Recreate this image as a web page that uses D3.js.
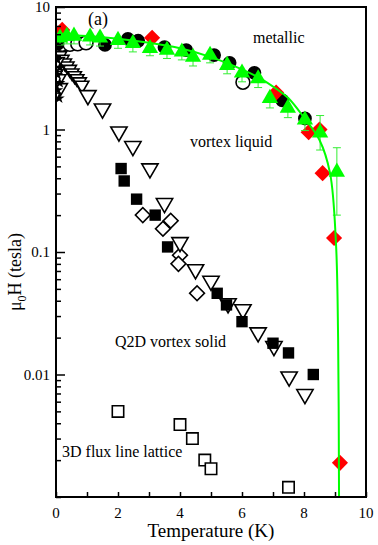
<!DOCTYPE html>
<html>
<head>
<meta charset="utf-8">
<script src="https://cdn.jsdelivr.net/npm/d3@7"></script>
<style>
  body { margin: 0; background: #fff; }
  svg text { font-family: "Liberation Serif", "DejaVu Serif", serif; fill: #000; }
</style>
</head>
<body>
<svg id="chart" width="378" height="545"></svg>
<script>
// tick labels
const xTicks = [0, 2, 4, 6, 8, 10];
const yTicks = [10, 1, 0.1, 0.01];
const yTickLabels = ["10", "1", "0.1", "0.01"];

// green fit line
const fitT = [0, 1, 2, 3, 4, 5, 6, 6.6, 7.1, 7.5, 8.0, 8.5, 8.84, 9.03, 9.1, 9.13];
const fitH = [6.0, 5.8, 5.5, 5.1, 4.6, 3.9, 3.1, 2.6, 2.15, 1.8, 1.25, 0.82, 0.44, 0.12, 0.02, 0.001];

// green triangles with error bars
const triT = [0.13, 0.35, 0.58, 1.1, 1.42, 2.0, 2.48, 3.03, 3.58, 4.06, 4.42, 4.97, 5.52, 6.0, 6.52, 6.9, 7.48, 8.03, 8.52, 9.06];
const triH = [5.6, 5.8, 5.8, 5.7, 5.6, 5.35, 5.05, 4.6, 4.45, 4.3, 3.9, 4.05, 3.35, 2.9, 2.6, 1.8, 1.5, 1.2, 0.94, 0.45];
const triLo = [4.9, 5.0, 5.0, 4.9, 4.8, 4.6, 4.3, 4.0, 3.8, 3.7, 3.3, 3.5, 2.85, 2.45, 2.2, 1.5, 1.25, 0.98, 0.68, 0.2];
const triHi = [5.6, 5.8, 5.8, 5.7, 5.6, 5.35, 5.05, 4.6, 4.45, 4.3, 3.9, 4.05, 3.35, 2.9, 2.6, 1.8, 1.5, 1.2, 1.3, 0.71];

// red diamonds
const redT = [0.2, 3.1, 7.1, 8.15, 8.5, 8.6, 8.97, 9.16];
const redH = [6.5, 5.6, 2.0, 0.95, 1.0, 0.44, 0.13, 0.0019];

// black filled circles
const dotT = [0.05, 1.58, 2.32, 2.65, 3.5, 4.2, 5.1, 5.6, 6.4, 7.3, 8.03];
const dotH = [5.0, 4.9, 5.5, 5.3, 4.7, 4.45, 4.05, 3.5, 2.9, 1.73, 1.23];

// open circles
const ringT = [0.2, 0.45, 0.7, 0.97, 6.03];
const ringH = [4.95, 4.95, 5.0, 5.1, 2.43];

// open down triangles, dense low-T run
const lowT = [0.05, 0.12, 0.2, 0.28, 0.36, 0.44, 0.52, 0.6, 0.68, 0.76, 0.84, 0.05, 0.05, 0.1, 0.15];
const lowH = [4.3, 4.0, 3.75, 3.5, 3.3, 3.1, 2.9, 2.75, 2.6, 2.45, 2.3, 3.6, 3.0, 2.6, 2.2];

// open down triangles
const downT = [1.03, 1.5, 2.03, 2.48, 3.03, 3.5, 4.0, 4.5, 5.0, 5.55, 6.03, 6.52, 7.03, 7.52, 8.03];
const downH = [1.9, 1.48, 0.96, 0.73, 0.48, 0.25, 0.12, 0.072, 0.058, 0.038, 0.034, 0.022, 0.017, 0.0096, 0.0069];

// black filled squares
const sqT = [2.1, 2.2, 2.6, 3.2, 3.6, 5.2, 5.5, 6.0, 7.0, 7.5, 8.3];
const sqH = [0.48, 0.38, 0.27, 0.2, 0.11, 0.046, 0.037, 0.027, 0.018, 0.015, 0.010];

// open diamonds
const dmT = [2.8, 3.45, 3.7, 4.0, 3.95, 4.55];
const dmH = [0.2, 0.155, 0.18, 0.094, 0.08, 0.046];

// open squares (3D lattice)
const boxT = [2.0, 4.0, 4.4, 4.8, 5.0, 7.5];
const boxH = [0.005, 0.0039, 0.003, 0.002, 0.0017, 0.0012];

// black stars at the axis
const starT = [0.05, 0.12, 0.05, 0.12, 0.05, 0.1];
const starH = [3.7, 3.2, 2.8, 2.4, 2.1, 1.8];

const svg = d3.select("#chart");
const padL = 56, padR = 366, padT = 7, padB = 497;

const x = d3.scaleLinear().domain([0, 10]).range([padL, padR]);
const y = d3.scaleLog().domain([0.001, 10]).range([padB, padT]);

const plot = svg.append("g");
plot.append("clipPath").attr("id", "clip")
  .append("rect").attr("x", padL).attr("y", padT)
  .attr("width", padR - padL).attr("height", padB - padT);
const marks = plot.append("g").attr("clip-path", "url(#clip)");

const zip = (a, b) => a.map((v, i) => [v, b[i]]);

function drawSymbol(data, type, size, fill, stroke, rotate) {
  marks.append("g").selectAll("path")
    .data(data)
    .enter()
    .append("path")
    .attr("d", d3.symbol().type(type).size(size))
    .attr("transform", d => `translate(${x(d[0])},${y(d[1])}) rotate(${rotate || 0})`)
    .attr("fill", fill)
    .attr("stroke", stroke)
    .attr("stroke-width", stroke == "none" ? 0 : 1.6);
}

// low field phases
drawSymbol(zip(boxT, boxH), d3.symbolSquare, 130, "#fff", "#000");
drawSymbol(zip(dmT, dmH), d3.symbolSquare, 110, "#fff", "#000", 45);
drawSymbol(zip(lowT, lowH), d3.symbolTriangle, 80, "#fff", "#000", 180);
drawSymbol(zip(downT, downH), d3.symbolTriangle, 115, "#fff", "#000", 180);
drawSymbol(zip(sqT, sqH), d3.symbolSquare, 130, "#000", "none");
drawSymbol(zip(starT, starH), d3.symbolStar, 40, "#000", "none");

// upper critical field
drawSymbol(zip(ringT, ringH), d3.symbolCircle, 150, "#fff", "#000");
drawSymbol(zip(dotT, dotH), d3.symbolCircle, 150, "#000", "none");
drawSymbol(zip(redT, redH), d3.symbolSquare, 130, "#ff0000", "none", 45);

// error bars
const bars = marks.append("g").attr("stroke", "#33ee33").attr("stroke-width", 1);
triT.forEach((t, i) => {
  const cx = x(t);
  bars.append("line").attr("x1", cx).attr("x2", cx).attr("y1", y(triHi[i])).attr("y2", y(triLo[i]));
  bars.append("line").attr("x1", cx - 4).attr("x2", cx + 4).attr("y1", y(triLo[i])).attr("y2", y(triLo[i]));
  bars.append("line").attr("x1", cx - 4).attr("x2", cx + 4).attr("y1", y(triHi[i])).attr("y2", y(triHi[i]));
});
drawSymbol(zip(triT, triH), d3.symbolTriangle, 115, "#00ff00", "none");

// fit line
marks.append("path")
  .datum(zip(fitT, fitH))
  .attr("d", d3.line().x(d => x(d[0])).y(d => y(d[1])).curve(d3.curveCatmullRom))
  .attr("fill", "none")
  .attr("stroke", "#00ff00")
  .attr("stroke-width", 2);

// axes, ticks inward
const yAxis = d3.axisRight(y)
  .tickValues([].concat(...[0.001, 0.01, 0.1, 1].map(d => d3.range(1, 10).map(k => +(k * d).toPrecision(3)))).concat([10]))
  .tickSize(5)
  .tickFormat("");
const yg = svg.append("g").attr("transform", `translate(${padL},0)`).call(yAxis);
yg.select(".domain").remove();
yg.selectAll(".tick line")
  .attr("stroke-width", 1.5)
  .attr("x2", d => yTicks.includes(d) ? 9 : 5);

const xAxis = d3.axisTop(x).ticks(10).tickSize(5).tickFormat("");
const xg = svg.append("g").attr("transform", `translate(0,${padB})`).call(xAxis);
xg.select(".domain").remove();
xg.selectAll(".tick line").attr("stroke-width", 1.5);

svg.append("rect")
  .attr("x", padL).attr("y", padT)
  .attr("width", padR - padL).attr("height", padB - padT)
  .attr("fill", "none").attr("stroke", "#000").attr("stroke-width", 2);

// tick labels
svg.append("g").selectAll("text")
  .data(yTicks)
  .enter()
  .append("text")
  .attr("x", padL - 6)
  .attr("y", d => y(d) + 5)
  .attr("text-anchor", "end")
  .attr("font-size", 15)
  .text((d, i) => yTickLabels[i]);

svg.append("g").selectAll("text")
  .data(xTicks)
  .enter()
  .append("text")
  .attr("x", d => x(d))
  .attr("y", padB + 21)
  .attr("text-anchor", "middle")
  .attr("font-size", 15)
  .text(d => d);

// axis titles
svg.append("text")
  .attr("x", (padL + padR) / 2)
  .attr("y", 537)
  .attr("text-anchor", "middle")
  .attr("font-size", 19)
  .text("Temperature (K)");

const yt = svg.append("text")
  .attr("transform", "translate(21,272) rotate(-90)")
  .attr("text-anchor", "middle")
  .attr("font-size", 18);
yt.append("tspan").text("μ");
yt.append("tspan").attr("font-size", 12).attr("dy", 5).text("0");
yt.append("tspan").attr("dy", -5).text("H (tesla)");

// phase labels
const labels = [
  ["(a)", 88, 25, 18],
  ["metallic", 253, 43, 16],
  ["vortex liquid", 190, 147, 16],
  ["Q2D vortex solid", 115, 347, 16],
  ["3D flux line lattice", 62, 457, 16]
];
svg.append("g").selectAll("text")
  .data(labels)
  .enter()
  .append("text")
  .attr("x", d => d[1])
  .attr("y", d => d[2])
  .attr("font-size", d => d[3])
  .text(d => d[0]);
</script>
</body>
</html>
